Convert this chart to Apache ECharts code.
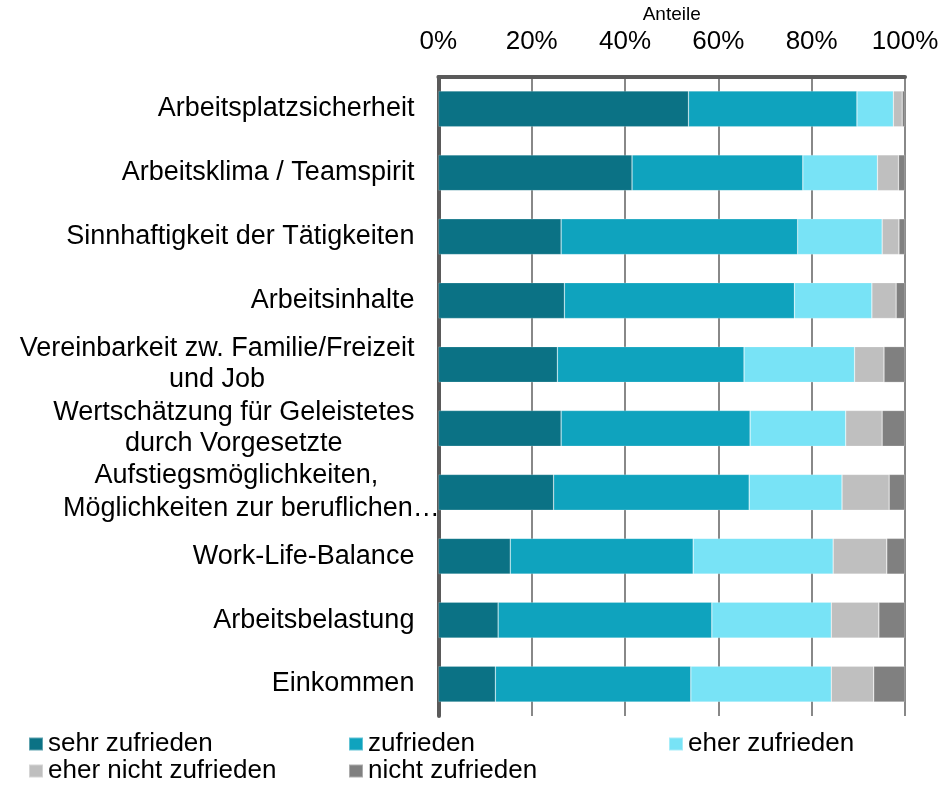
<!DOCTYPE html>
<html>
<head>
<meta charset="utf-8">
<script src="https://cdn.jsdelivr.net/npm/echarts@6/dist/echarts.min.js"></script>
<style>html,body{margin:0;padding:0;background:#fff}#c{width:942px;height:785px}</style>
</head>
<body>
<div id="c"></div>
<script>
const categories = [
  "Arbeitsplatzsicherheit",
  "Arbeitsklima / Teamspirit",
  "Sinnhaftigkeit der Tätigkeiten",
  "Arbeitsinhalte",
  "Vereinbarkeit zw. Familie/Freizeit\nund Job",
  "Wertschätzung für Geleistetes\ndurch Vorgesetzte",
  "Aufstiegsmöglichkeiten,\nMöglichkeiten zur beruflichen…",
  "Work-Life-Balance",
  "Arbeitsbelastung",
  "Einkommen"
];
const seriesNames = ["sehr zufrieden", "zufrieden", "eher zufrieden", "eher nicht zufrieden", "nicht zufrieden"];
const sehrZufrieden     = [53.6, 41.5, 26.3, 27.0, 25.5, 26.3, 24.7, 15.4, 12.8, 12.2];
const zufrieden         = [36.1, 36.6, 50.7, 49.3, 40.0, 40.5, 41.9, 39.2, 45.8, 41.9];
const eherZufrieden     = [ 7.8, 16.0, 18.1, 16.6, 23.7, 20.5, 19.9, 30.0, 25.6, 30.1];
const eherNichtZufrieden= [ 1.9,  4.5,  3.6,  5.2,  6.3,  7.8, 10.1, 11.5, 10.2,  9.1];
const nichtZufrieden    = [ 0.6,  1.4,  1.3,  1.9,  4.5,  4.9,  3.4,  3.9,  5.6,  6.7];
const tickValues = [0, 20, 40, 60, 80, 100];
const axisName = "Anteile";

const values = [sehrZufrieden, zufrieden, eherZufrieden, eherNichtZufrieden, nichtZufrieden];
const colors = ["#0B7285", "#0FA3BE", "#78E3F6", "#BFBFBF", "#808080"];
const FONT = "'Liberation Sans', Arial, sans-serif";
const CAT_SIZE = 27;

// measure text width for centering multi-line labels
const mctx = document.createElement('canvas').getContext('2d');
mctx.font = CAT_SIZE + "px 'Liberation Sans', Arial, sans-serif";
function tw(s) { return mctx.measureText(s).width; }

// per-line token widths for multi-line labels (layout only)
const lineWidths = {};
const lineShift = {};
categories.forEach((c, i) => {
  const lines = c.split('\n');
  if (lines.length > 1) {
    const w = Math.max(...lines.map(tw));
    lineWidths[i] = lines.map(() => w);
    lineShift[i] = lines.map(() => 0);
  }
});
// "Aufstiegs..." label: lines are centred slightly differently in the reference
lineWidths[6] = [356, 326];
lineShift[6] = [0, 30];

const rich = {sp: {width: 30, fontSize: CAT_SIZE, align: 'center'}};
Object.keys(lineWidths).forEach(i => {
  lineWidths[i].forEach((w, j) => {
    rich['m' + i + '_' + j] = {width: w, align: 'center', fontSize: CAT_SIZE, lineHeight: (+i === 6 ? 33 : 31), fontFamily: FONT, color: '#000'};
  });
});

const chart = echarts.init(document.getElementById('c'), null, {renderer: 'canvas'});

const legendPos = [
  {left: 28, top: 731}, {left: 348, top: 731}, {left: 668, top: 731},
  {left: 28, top: 758}, {left: 348, top: 758}
];

const option = {
  backgroundColor: '#fff',
  animation: false,
  textStyle: {fontFamily: FONT},
  grid: {left: 438.4, right: 37, top: 73.5, bottom: 69, containLabel: false},
  xAxis: {
    type: 'value',
    position: 'top',
    min: 0, max: 100, interval: 20,
    name: axisName,
    nameLocation: 'middle',
    nameGap: 49,
    nameTextStyle: {fontSize: 19, color: '#000', fontFamily: FONT},
    axisLine: {show: true, onZero: false, lineStyle: {color: '#5a5a5a', width: 4}},
    axisTick: {show: false},
    axisLabel: {
      fontSize: 26, color: '#000', fontFamily: FONT, margin: 22,
      formatter: v => tickValues.includes(v) ? v + '%' : ''
    },
    splitLine: {show: true, lineStyle: {color: '#888888', width: 2}}
  },
  yAxis: {
    type: 'category',
    data: categories,
    inverse: true,
    axisLine: {show: true, lineStyle: {color: '#5a5a5a', width: 4}},
    axisTick: {show: false},
    axisLabel: {
      fontSize: CAT_SIZE, color: '#000', fontFamily: FONT, margin: 24, lineHeight: 31,
      formatter: (v, i) => {
        if (lineWidths[i] !== undefined) {
          return v.split('\n').map((l, j) =>
            (lineShift[i][j] ? '{sp| }' : '') + '{m' + i + '_' + j + '|' + l + '}'
          ).join('\n');
        }
        return v;
      },
      rich: rich
    }
  },
  legend: seriesNames.map((n, i) => ({
    data: [n],
    left: legendPos[i].left,
    top: legendPos[i].top,
    orient: 'horizontal',
    icon: 'rect',
    itemWidth: 14,
    itemHeight: 13,
    padding: 0,
    selectedMode: false,
    textStyle: {fontSize: 26, color: '#000', fontFamily: FONT}
  })),
  series: seriesNames.map((n, i) => ({
    name: n,
    type: 'bar',
    stack: 'total',
    barWidth: '56%',
    itemStyle: {color: colors[i], borderColor: 'rgba(255,255,255,0.35)', borderWidth: 0.6},
    data: values[i]
  }))
};
chart.setOption(option);
</script>
</body>
</html>
